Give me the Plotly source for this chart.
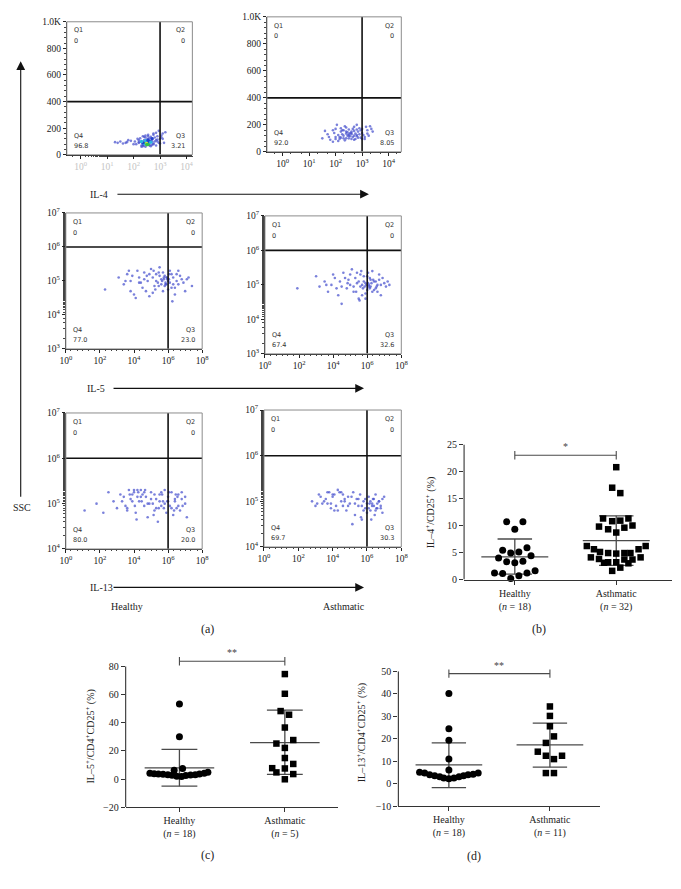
import plotly.graph_objects as go

W, H = 681, 889
SERIF = "Liberation Serif"

# ---------------- flow cytometry data (x as log10 exponents) ----------------
il4_h_x = [2.1,2.2,2.3,2.4,2.5,2.6,2.7,2.8,2.9,3.0,3.1,2.3,2.45,2.55,2.65,2.75,2.85,2.95,2.4,2.5,2.6,2.7,2.2,2.35,2.9,3.05,3.15,3.2,1.3,1.5,1.7,1.9,1.6,1.8,2.0,2.15,2.55,2.75,2.5,2.6,
           2.25,2.35,2.45,2.55,2.65,2.75,2.85,2.95,3.05,2.3,2.4,2.5,2.6,2.7,2.8,2.2,2.9,3.0,2.45,2.65,2.55,2.35,2.75,1.4,1.75,2.05,2.85,3.1,2.6,2.4]
il4_h_y = [80,95,70,110,90,75,120,100,140,85,160,60,130,105,65,150,70,180,90,85,95,100,110,75,115,130,90,170,95,100,90,105,85,110,80,120,140,160,80,100,
           125,65,145,120,135,80,110,90,145,95,70,115,125,75,130,90,100,120,60,105,150,140,85,90,95,100,165,120,70,135]
il4_core_x = [2.4,2.45,2.5,2.55,2.6,2.5,2.45,2.55,2.65,2.35,2.7,2.3]
il4_core_y = [85,95,90,80,100,75,105,110,95,90,120,100]
il4_core_c = ['#2bb5e0','#35c24a','#e8e030','#35c24a','#1f3fd0','#35c24a','#2bb5e0','#1f3fd0','#2bb5e0','#1f3fd0','#1f3fd0','#2bb5e0']

il4_a_x = [1.5,1.7,1.8,1.9,2.0,2.1,2.2,2.3,2.4,2.5,2.6,2.7,2.8,2.9,3.0,3.1,3.2,3.3,3.4,1.9,2.05,2.15,2.25,2.35,2.45,2.55,2.65,2.75,2.85,2.95,3.05,3.15,2.0,2.2,2.4,2.6,2.8,3.0,2.3,2.5,2.7,1.6,3.25,
           1.95,2.1,2.2,2.3,2.4,2.5,2.6,2.7,2.8,2.9,3.0,3.1,3.2,2.15,2.35,2.45,2.55,2.65,2.75,2.85,2.95,2.25,2.5,2.6,2.4,2.7,1.75,3.35,2.0,2.8]
il4_a_y = [100,130,90,160,110,80,150,120,180,100,140,90,200,130,170,110,160,190,150,75,200,95,130,85,120,140,110,95,150,105,125,185,170,105,150,130,115,95,160,130,120,155,120,
           140,125,175,100,135,165,95,155,125,175,140,95,135,110,190,145,115,170,135,105,160,160,120,150,100,185,110,170,95,165]

il5_h_x = [2.3,3.1,3.4,3.6,3.8,4.0,4.2,4.3,4.5,4.6,4.8,4.9,5.0,5.1,5.2,5.3,5.4,5.5,5.6,5.7,5.8,5.9,6.0,6.1,6.2,6.3,6.4,6.5,6.6,6.8,7.0,7.2,7.4,4.1,4.7,5.25,5.65,5.85,6.05,5.75,5.95,6.25,3.9,4.4,5.45,
           3.5,3.8,4.3,4.6,4.9,5.1,5.3,5.5,5.6,5.7,5.8,5.9,6.0,6.1,6.2,6.3,6.5,6.7,6.9,7.1,5.75,5.85,5.95,6.05,5.45,5.15,4.75,6.4,6.6,3.7]
il5_h_y = [4.75,5.1,4.9,5.2,5.0,4.6,5.3,5.1,4.8,5.25,5.0,4.55,5.35,5.1,4.85,5.2,4.95,5.4,5.05,4.7,5.15,4.9,5.0,5.3,4.8,5.1,4.6,5.2,4.9,5.05,4.7,5.1,4.85,4.5,4.7,4.75,5.0,4.95,5.05,5.1,5.05,4.4,5.15,4.95,5.25,
           5.0,4.7,4.95,5.05,5.2,4.65,5.0,5.15,4.9,5.25,4.85,5.1,4.75,4.95,5.2,4.9,5.0,5.15,4.95,5.05,5.05,4.9,5.1,5.2,4.85,5.3,5.15,4.8,5.3,5.3]

il5_a_x = [1.9,3.0,3.2,3.5,3.7,3.9,4.1,4.3,4.4,4.6,4.8,4.9,5.0,5.1,5.2,5.3,5.4,5.5,5.6,5.7,5.8,5.9,6.0,6.1,6.2,6.3,6.4,6.5,6.6,6.7,6.8,6.9,7.0,7.2,5.75,5.95,6.15,6.35,5.55,4.5,6.05,5.85,4.0,6.55,
           3.6,4.2,4.5,4.7,5.0,5.2,5.4,5.5,5.7,5.8,5.9,6.0,6.05,6.1,6.2,6.3,6.4,6.5,6.7,6.8,7.1,5.6,5.9,6.15,6.25,5.65,5.35,4.85,6.6,7.3]
il5_a_y = [4.9,5.25,4.95,5.1,4.8,5.0,5.2,4.7,5.1,5.35,4.9,5.15,5.0,5.45,4.8,5.2,5.05,4.6,5.3,5.0,5.1,4.75,5.25,4.95,5.15,5.4,4.85,5.1,5.0,5.3,4.7,5.2,5.05,5.1,4.9,5.0,4.9,5.15,4.55,4.45,5.05,4.95,5.3,4.95,
           5.0,4.9,4.95,5.2,5.3,4.95,5.35,5.1,4.7,5.25,5.05,4.85,5.35,5.0,4.95,4.8,5.1,4.9,5.15,5.0,4.95,4.95,4.6,5.2,5.05,5.4,4.8,5.05,4.8,5.0]

il13_h_x = [1.1,1.8,2.2,2.5,2.8,3.0,3.2,3.4,3.5,3.7,3.8,4.0,4.1,4.2,4.3,4.5,4.6,4.7,4.8,5.0,5.1,5.2,5.3,5.4,5.5,5.6,5.7,5.8,5.9,6.0,6.1,6.2,6.3,6.4,6.5,6.6,6.7,6.8,7.0,7.1,3.9,4.4,4.9,5.45,5.95,6.35,4.15,3.6,5.65,6.55,
            3.3,3.6,3.9,4.0,4.2,4.4,4.6,4.8,5.0,5.2,5.3,5.5,5.6,5.8,6.0,6.2,6.4,6.6,6.8,7.0,4.05,4.25,4.45,4.65,5.15,5.75,6.05,6.45,6.85,3.75]
il13_h_y = [4.85,5.0,4.8,5.25,5.05,4.9,5.2,5.15,4.95,5.3,5.1,5.25,4.8,5.3,5.05,5.2,4.95,5.15,4.7,5.25,5.0,4.85,5.1,4.6,5.2,4.95,5.05,5.3,4.8,5.15,4.95,5.25,4.75,5.05,4.9,5.2,4.85,5.1,5.0,4.7,5.05,5.15,5.0,4.9,5.05,4.85,4.65,4.85,5.2,5.15,
            5.05,4.9,5.2,5.3,5.15,5.3,5.25,5.0,5.1,5.2,4.9,5.05,5.25,5.0,5.05,4.9,5.1,4.95,5.25,5.15,4.95,5.25,5.05,5.3,4.75,4.9,5.25,5.2,4.95,5.2]

il13_a_x = [2.8,3.0,3.2,3.4,3.6,3.8,3.9,4.0,4.2,4.3,4.5,4.6,4.8,4.9,5.0,5.2,5.3,5.4,5.5,5.6,5.7,5.8,5.9,6.0,6.1,6.2,6.3,6.4,6.5,6.6,6.7,6.8,6.9,7.0,4.1,4.7,5.15,5.65,6.15,6.35,6.55,3.7,4.4,
            3.1,3.3,3.5,3.7,3.9,4.1,4.3,4.5,4.7,4.9,5.1,5.3,5.5,5.7,5.9,6.0,6.1,6.2,6.3,6.4,6.5,6.6,6.7,6.8,6.9,4.0,4.6,5.8,6.25,6.45]
il13_a_y = [5.0,4.9,5.15,4.95,5.05,5.2,4.85,5.1,4.9,5.25,5.0,5.15,4.8,5.1,4.95,5.2,4.7,5.05,4.9,5.15,4.6,5.0,4.85,4.95,5.1,4.8,4.95,4.9,5.15,4.85,5.0,4.9,4.75,5.1,4.8,5.0,4.5,4.65,4.95,5.05,4.85,4.95,5.2,
            4.95,5.1,5.0,5.2,4.95,5.15,4.8,5.2,5.05,4.9,5.1,4.95,5.05,4.9,5.05,4.75,4.85,5.0,4.9,5.05,4.8,4.95,5.0,4.85,5.05,5.15,4.9,4.8,4.6,4.7]

# quadrant percentages: Q1, Q2, Q4, Q3
q_il4_h = ["0", "0", "96.8", "3.21"]
q_il4_a = ["0", "0", "92.0", "8.05"]
q_il5_h = ["0", "0", "77.0", "23.0"]
q_il5_a = ["0", "0", "67.4", "32.6"]
q_il13_h = ["0", "0", "80.0", "20.0"]
q_il13_a = ["0", "0", "69.7", "30.3"]

lin_ticks = [0, 200, 400, 600, 800, 1000]
lin_ticktext = ["0", "200", "400", "600", "800", "1.0K"]
row1_xexp = [0, 1, 2, 3, 4]
wide_xexp = [0, 2, 4, 6, 8]

# ---------------- dot plot data ----------------
groups = ["Healthy", "Asthmatic"]
b_n = [18, 32]
b_h = [10.7,10.7,9.3,5.9,5.4,5.1,4.9,4.4,4.0,3.3,3.1,3.4,1.6,1.2,1.1,1.2,0.7,0.2]
b_h_off = [-0.08,0.08,0,0.12,-0.12,0.04,-0.04,0.16,-0.16,-0.08,0,0.08,0.2,-0.2,-0.12,0.12,0.04,-0.04]
b_a = [20.8,17.0,16.0,11.3,10.8,10.9,11.3,9.8,9.3,9.6,10.0,8.7,6.2,5.6,5.1,4.9,4.8,4.9,4.9,5.6,6.2,4.1,3.8,3.1,3.2,3.2,3.7,3.0,3.7,4.1,1.6,2.2]
b_a_off = [0,-0.04,0.04,-0.13,-0.04,0.04,0.12,-0.17,-0.08,0.08,0.16,0,-0.29,-0.22,-0.16,-0.08,0,0.08,0.14,0.22,0.29,-0.25,-0.17,-0.12,-0.08,0,0.08,0.12,0.16,0.24,-0.04,0.04]
b_h_stats = [4.2, 7.5, 1.0]   # mean, upper SD, lower SD
b_a_stats = [7.2, 11.8, 2.6]
b_sig = [23.0, "*"]

c_n = [18, 5]
c_h = [53.4,30.1,6.3,7.5,4.0,3.8,3.6,3.3,3.0,2.6,2.0,1.8,2.4,2.8,3.1,3.5,4.0,4.8]
c_h_off = [0,0,-0.05,0.03,-0.28,-0.24,-0.2,-0.155,-0.11,-0.07,-0.025,0.02,0.06,0.105,0.15,0.19,0.235,0.27]
c_a = [74.6,60.6,48.3,45.7,36.6,25.2,27.7,22.1,14.9,7.7,7.5,4.7,10.7,3.5,-0.2]
c_a_off = [0,0,-0.04,0.04,0,-0.08,0.08,0,0,-0.12,0,-0.08,0.08,0.08,0]
c_h_stats = [7.9, 21.0, -5.1]
c_a_stats = [25.9, 49.0, 3.3]
c_sig = [83.7, "**"]

d_n = [18, 11]
d_h = [40.1,24.4,19.3,10.9,6.1,5.1,4.7,3.9,3.5,3.1,2.5,2.2,2.5,3.1,3.5,3.9,4.2,4.7]
d_h_off = [0,0,0,0,0,-0.29,-0.24,-0.19,-0.14,-0.09,-0.05,0,0.05,0.1,0.145,0.19,0.24,0.29]
d_a = [34.3,30.1,25.5,21.0,18.1,14.2,12.4,10.9,12.4,4.7,4.7]
d_a_off = [0,0,0,0.04,-0.04,-0.12,-0.04,0.04,0.12,-0.04,0.04]
d_h_stats = [8.3, 18.1, -1.8]
d_a_stats = [17.2, 26.9, 7.3]
d_sig = [48.9, "**"]

# ---------------- helpers ----------------
def xdom(a, b):
    return [a / W, b / W]

def ydom(top, bottom):
    return [1 - bottom / H, 1 - top / H]

def ids(i):
    s = "" if i == 1 else str(i)
    return "x" + s, "y" + s, "xaxis" + s, "yaxis" + s

def sup(e):
    return "10<sup>%d</sup>" % e

fig = go.Figure()
layout = {}
annotations = []
shapes = []

DOT = "rgba(70,80,205,0.72)"

flows = [
    dict(xd=(62, 190), yd=(15, 150), xr=[-0.52, 4.22], ylog=False, yr=[0, 1000],
         xt=row1_xexp, yt=lin_ticks, ytt=lin_ticktext, gx=3, gy=400,
         px=il4_h_x, py=il4_h_y, q=q_il4_h, xtc="#c4c4c4"),
    dict(xd=(266, 403), yd=(10, 147), xr=[-0.59, 4.48], ylog=False, yr=[0, 1000],
         xt=row1_xexp, yt=lin_ticks, ytt=lin_ticktext, gx=3, gy=400,
         px=il4_a_x, py=il4_a_y, q=q_il4_a, xtc="#222"),
    dict(xd=(61, 200), yd=(209, 347), xr=[0, 8], ylog=True, yr=[3, 7],
         xt=wide_xexp, yt=[3, 4, 5, 6, 7], gx=6, gy=6,
         px=il5_h_x, py=il5_h_y, q=q_il5_h, xtc="#222"),
    dict(xd=(264, 403), yd=(212, 352), xr=[0, 8], ylog=True, yr=[3, 7],
         xt=wide_xexp, yt=[3, 4, 5, 6, 7], gx=6, gy=6,
         px=il5_a_x, py=il5_a_y, q=q_il5_a, xtc="#222"),
    dict(xd=(61, 200), yd=(412, 550), xr=[0, 8], ylog=True, yr=[4, 7],
         xt=wide_xexp, yt=[4, 5, 6, 7], gx=6, gy=6,
         px=il13_h_x, py=il13_h_y, q=q_il13_h, xtc="#222"),
    dict(xd=(263, 403), yd=(409, 548), xr=[0, 8], ylog=True, yr=[4, 7],
         xt=wide_xexp, yt=[4, 5, 6, 7], gx=6, gy=6,
         px=il13_a_x, py=il13_a_y, q=q_il13_a, xtc="#222"),
]

for i, p in enumerate(flows, start=1):
    xa, ya, xk, yk = ids(i)
    ylog = p["ylog"]
    yv = [10 ** v for v in p["py"]] if ylog else p["py"]
    fig.add_trace(go.Scatter(x=[10 ** v for v in p["px"]], y=yv, mode="markers",
                             marker=dict(size=2.6, color=DOT), xaxis=xa, yaxis=ya,
                             showlegend=False, hoverinfo="skip"))
    if i == 1:
        fig.add_trace(go.Scatter(x=[10 ** v for v in il4_core_x], y=il4_core_y, mode="markers",
                                 marker=dict(size=3.5, color=il4_core_c), xaxis=xa, yaxis=ya,
                                 showlegend=False, hoverinfo="skip"))
    x_lo, x_hi = 10 ** p["xr"][0], 10 ** p["xr"][1]
    y_lo, y_hi = (10 ** p["yr"][0], 10 ** p["yr"][1]) if ylog else (p["yr"][0], p["yr"][1])
    gy = 10 ** p["gy"] if ylog else p["gy"]
    gx = 10 ** p["gx"]
    fig.add_trace(go.Scatter(x=[x_lo, x_hi, None, gx, gx], y=[gy, gy, None, y_lo, y_hi],
                             mode="lines", line=dict(color="#111", width=1.6),
                             xaxis=xa, yaxis=ya, showlegend=False, hoverinfo="skip"))
    common = dict(ticks="outside", ticklen=3, tickcolor="#222",
                  showline=True, linecolor="#222", linewidth=1,
                  showgrid=False, zeroline=False)
    layout[xk] = dict(domain=xdom(*p["xd"]), type="log", range=p["xr"], anchor=ya,
                      tickmode="array", tickvals=[10 ** e for e in p["xt"]],
                      ticktext=[sup(e) for e in p["xt"]],
                      tickfont=dict(family=SERIF, size=9.5, color=p["xtc"]),
                      minor=dict(ticks="outside", ticklen=1.5, tickcolor="#444", showgrid=False),
                      **common)
    if ylog:
        layout[yk] = dict(domain=ydom(*p["yd"]), type="log", range=p["yr"], anchor=xa,
                          tickmode="array", tickvals=[10 ** e for e in p["yt"]],
                          ticktext=[sup(e) for e in p["yt"]],
                          tickfont=dict(family=SERIF, size=9.5, color="#222"),
                          minor=dict(ticks="outside", ticklen=1.5, tickcolor="#444", showgrid=False),
                          **common)
    else:
        layout[yk] = dict(domain=ydom(*p["yd"]), range=p["yr"], anchor=xa,
                          tickmode="array", tickvals=p["yt"], ticktext=p["ytt"],
                          tickfont=dict(family=SERIF, size=9.5, color="#222"),
                          minor=dict(ticks="outside", ticklen=1.5, dtick=40, tickcolor="#444", showgrid=False),
                          **common)
    shapes.append(dict(type="rect", xref=xa + " domain", yref=ya + " domain",
                       x0=0, x1=1, y0=0, y1=1, line=dict(color="#8c8c8c", width=1)))
    q = p["q"]
    qpos = [("Q1", q[0], 0.04, 0.935, 0.855, "left"),
            ("Q2", q[1], 0.96, 0.935, 0.855, "right"),
            ("Q4", q[2], 0.04, 0.14, 0.065, "left"),
            ("Q3", q[3], 0.96, 0.14, 0.065, "right")]
    for name, val, qx, qy1, qy2, al in qpos:
        for txt, qy in ((name, qy1), (val, qy2)):
            annotations.append(dict(text=txt, xref=xa + " domain", yref=ya + " domain",
                                    x=qx, y=qy, xanchor=al, yanchor="middle", showarrow=False,
                                    font=dict(family="DejaVu Sans", size=6.5, color="#333")))

# ---------------- dot plots ----------------
# yr: extent of the drawn axis/ticks; yview: visible range (room for the significance bar)
dots = [
    dict(xd=(467, 679), yd=(444, 581), xr=[-0.5, 1.55], yr=[0, 25], yview=[0, 25], dt=5,
         h=b_h, ho=b_h_off, a=b_a, ao=b_a_off, hs=b_h_stats, as_=b_a_stats, sig=b_sig, n=b_n),
    dict(xd=(122, 338), yd=(655, 812), xr=[-0.51, 1.5], yr=[-20, 80], yview=[-20, 90], dt=20,
         h=c_h, ho=c_h_off, a=c_a, ao=c_a_off, hs=c_h_stats, as_=c_a_stats, sig=c_sig, n=c_n),
    dict(xd=(400, 606), yd=(674, 811), xr=[-0.5, 1.5], yr=[-10, 50], yview=[-10, 50], dt=10,
         h=d_h, ho=d_h_off, a=d_a, ao=d_a_off, hs=d_h_stats, as_=d_a_stats, sig=d_sig, n=d_n),
]

MEAN_HW = 0.33
CAP_HW = 0.17
LC = "#4a4a4a"
for k, p in enumerate(dots, start=7):
    xa, ya, xk, yk = ids(k)
    for gi, (vals, offs, sym, st) in enumerate([(p["h"], p["ho"], "circle", p["hs"]),
                                                (p["a"], p["ao"], "square", p["as_"])]):
        m, up, lo = st
        fig.add_trace(go.Scatter(
            x=[gi - MEAN_HW, gi + MEAN_HW, None, gi, gi, None,
               gi - CAP_HW, gi + CAP_HW, None, gi - CAP_HW, gi + CAP_HW],
            y=[m, m, None, lo, up, None, up, up, None, lo, lo],
            mode="lines", line=dict(color=LC, width=1.3),
            xaxis=xa, yaxis=ya, showlegend=False, hoverinfo="skip"))
        fig.add_trace(go.Scatter(x=[gi + o for o in offs], y=vals, mode="markers",
                                 marker=dict(symbol=sym, size=7 if sym == "circle" else 6.5, color="#000"),
                                 xaxis=xa, yaxis=ya, showlegend=False, cliponaxis=False,
                                 hoverinfo="skip"))
    # significance bar with end ticks
    sy, star = p["sig"]
    fig.add_trace(go.Scatter(x=[0, 1], y=[sy, sy], mode="lines+markers",
                             line=dict(color=LC, width=1.1),
                             marker=dict(symbol="line-ns", size=6, line=dict(width=1.1, color=LC)),
                             xaxis=xa, yaxis=ya, showlegend=False, cliponaxis=False, hoverinfo="skip"))
    annotations.append(dict(x=0.5, y=sy, xref=xa, yref=ya, text=star, showarrow=False,
                            yanchor="bottom", yshift=1,
                            font=dict(family=SERIF, size=10, color="#444")))
    yt = list(range(p["yr"][0], p["yr"][1] + 1, p["dt"]))
    layout[xk] = dict(domain=xdom(*p["xd"]), range=p["xr"], anchor=ya,
                      tickmode="array", tickvals=[0, 1],
                      ticktext=["%s<br>(<i>n</i> = %d)" % (g, n) for g, n in zip(groups, p["n"])],
                      ticks="outside", ticklen=4, tickcolor="#333",
                      showline=True, linecolor="#333", linewidth=1.1,
                      showgrid=False, zeroline=False,
                      tickfont=dict(family=SERIF, size=10, color="#222"))
    layout[yk] = dict(domain=ydom(*p["yd"]), range=p["yview"], anchor=xa,
                      tickmode="array", tickvals=yt,
                      ticktext=[("\u2212%d" % -v) if v < 0 else str(v) for v in yt],
                      ticks="outside", ticklen=4, tickcolor="#333",
                      showline=False, showgrid=False, zeroline=False,
                      tickfont=dict(family=SERIF, size=10, color="#222"))
    shapes.append(dict(type="line", xref="paper", yref=ya,
                       x0=p["xd"][0] / W, x1=p["xd"][0] / W, y0=p["yr"][0], y1=p["yr"][1],
                       line=dict(color="#333", width=1.1)))

# ---------------- labels and arrows ----------------
def ptext(txt, x, y, size=10, angle=0):
    annotations.append(dict(text=txt, xref="paper", yref="paper", x=x / W, y=1 - y / H,
                            showarrow=False, textangle=angle, xanchor="center", yanchor="middle",
                            font=dict(family=SERIF, size=size, color="#222")))

def parrow(x, y, ax, ay):
    annotations.append(dict(text="", xref="paper", yref="paper", x=x / W, y=1 - y / H,
                            ax=ax, ay=ay, showarrow=True, arrowhead=2, arrowsize=1.6,
                            arrowwidth=1.1, arrowcolor="#111"))

ptext("IL-4", 95, 190)
ptext("IL-5", 92, 387)
ptext("IL-13", 97, 589)
ptext("SSC", 16, 508)
ptext("Healthy", 123, 608)
ptext("Asthmatic", 345, 608)
ptext("(a)", 205, 631, 12)
ptext("(b)", 543, 631, 12)
ptext("(c)", 205, 861, 12)
ptext("(d)", 477, 862, 12)
ptext("IL\u20134<sup>+</sup>/CD25<sup>+</sup> (%)", 433, 513, 10, -90)
ptext("IL\u20135<sup>+</sup>/CD4<sup>+</sup>CD25<sup>+</sup> (%)", 86, 740, 10, -90)
ptext("IL\u201313<sup>+</sup>/CD4<sup>+</sup>CD25<sup>+</sup> (%)", 362, 737, 10, -90)

parrow(370, 190, -(370 - 117), 0)
parrow(365, 387, -(365 - 113), 0)
parrow(365, 589, -(365 - 113), 0)
parrow(15, 55, 0, 492 - 55)

fig.update_layout(width=W, height=H, autosize=False,
                  margin=dict(l=0, r=0, t=0, b=0),
                  paper_bgcolor="white", plot_bgcolor="white",
                  annotations=annotations, shapes=shapes, **layout)

fig.write_html("out.html", config={"displayModeBar": False},
               post_script="document.body.style.margin='0';")
